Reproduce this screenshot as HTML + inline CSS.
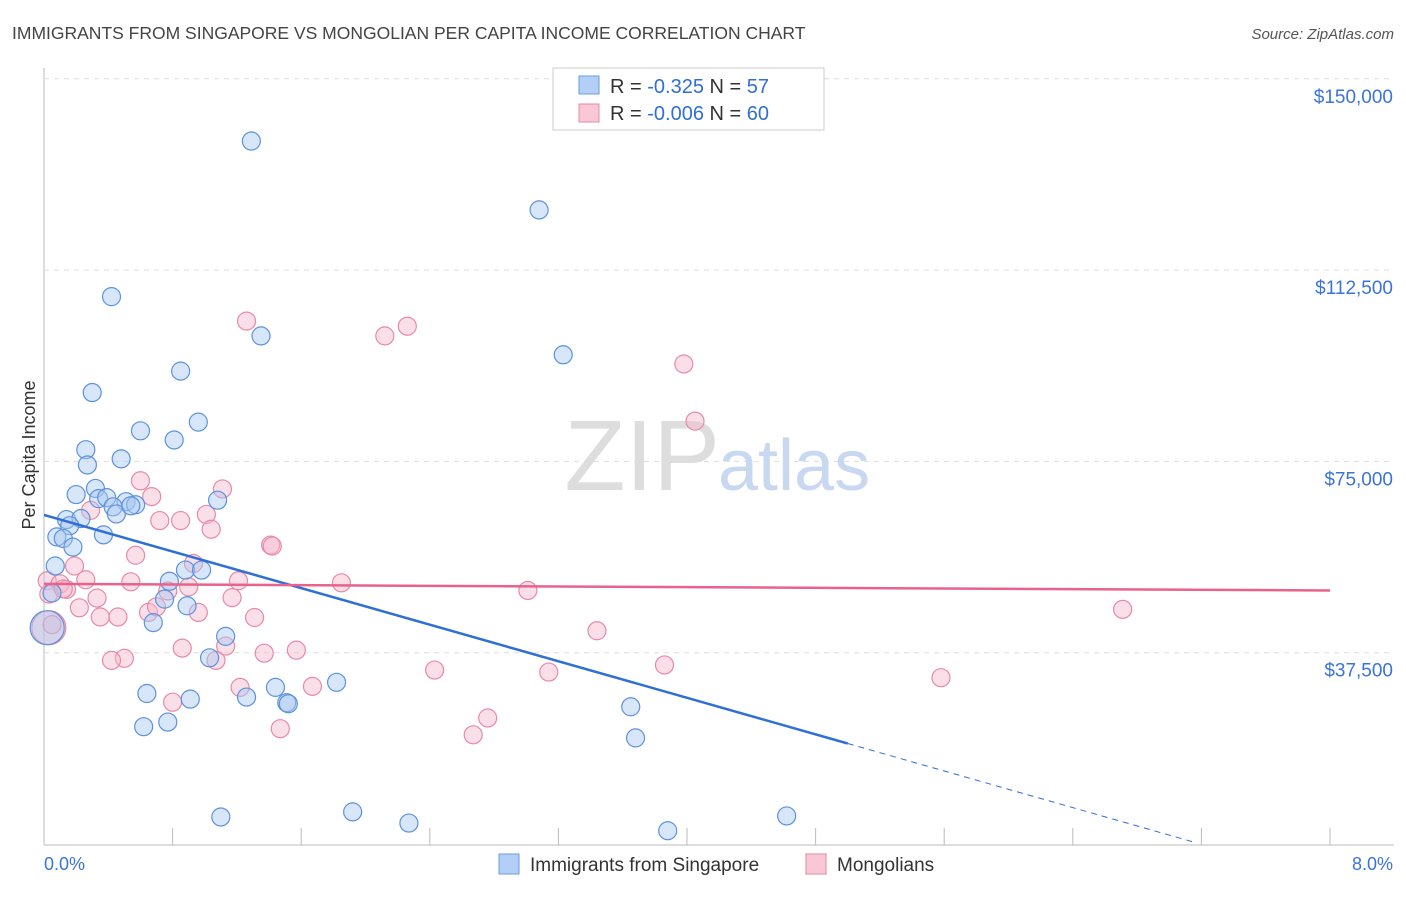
<!DOCTYPE html>
<html><head><meta charset="utf-8"><style>
body{margin:0;background:#fff;font-family:"Liberation Sans",sans-serif}
svg text{font-family:"Liberation Sans",sans-serif}
</style></head><body>
<svg id="c" width="1406" height="892" xmlns="http://www.w3.org/2000/svg">
<text x="12" y="39" font-size="17.5" fill="#444">IMMIGRANTS FROM SINGAPORE VS MONGOLIAN PER CAPITA INCOME CORRELATION CHART</text>
<text x="1394" y="39" font-size="15" fill="#555" font-style="italic" text-anchor="end">Source: ZipAtlas.com</text>
<text x="35" y="455" font-size="18" fill="#333" text-anchor="middle" transform="rotate(-90 35 455)">Per Capita Income</text>
<g id="grid"></g>
<text x="720" y="490" font-size="100" fill="#ddd" text-anchor="end" font-family="Liberation Serif">ZIP</text>
<text x="718" y="490" font-size="72" fill="#c8d8f0">atlas</text>
<g id="pts"></g>
<g id="lines"></g>
<g>
<rect x="553" y="68" width="271" height="62" fill="#fff" stroke="#ccc"/>
<rect x="579" y="76" width="20" height="18" fill="#b3cff5" stroke="#6a9de0"/>
<rect x="579" y="104" width="20" height="18" fill="#f9c7d6" stroke="#e88aa6"/>
<text x="610" y="93" font-size="20" fill="#333">R = <tspan fill="#2f6fd6">-0.325</tspan>   N = <tspan fill="#2f6fd6">57</tspan></text>
<text x="610" y="120" font-size="20" fill="#333">R = <tspan fill="#2f6fd6">-0.006</tspan>   N = <tspan fill="#2f6fd6">60</tspan></text>
</g>
<text x="44" y="870" font-size="18" fill="#3a74d8">0.0%</text>
<text x="1393" y="870" font-size="18" fill="#3a74d8" text-anchor="end">8.0%</text>
<g>
<rect x="499" y="854" width="20" height="20" fill="#b3cff5" stroke="#6a9de0"/>
<text x="530" y="871" font-size="19" fill="#333">Immigrants from Singapore</text>
<rect x="806" y="854" width="20" height="20" fill="#f9c7d6" stroke="#e88aa6"/>
<text x="837" y="871" font-size="19" fill="#333">Mongolians</text>
</g>
</svg>
<script>
const yTicks=[37500,75000,112500,150000];
const yTickLabels=["$37,500","$75,000","$112,500","$150,000"];
const blueX=[1.29,3.08,0.42,1.35,3.23,0.85,0.30,0.96,0.60,0.81,0.26,0.27,0.48,0.20,0.32,0.34,0.39,0.51,0.57,0.43,0.45,1.08,0.54,0.14,0.23,0.16,0.08,0.12,0.37,0.18,0.07,0.88,0.98,0.78,0.75,0.89,0.68,1.13,1.03,0.02,0.64,0.91,1.26,1.44,1.82,1.51,1.52,0.62,0.77,3.65,3.68,1.10,1.92,2.27,3.88,4.62,0.05];
const blueY=[137800,124300,107300,99600,95900,92700,88500,82700,81000,79200,77300,74300,75500,68500,69700,67700,67900,67100,66500,66100,64700,67400,66300,63600,63800,62400,60200,59900,60600,58200,54500,53700,53700,51500,48000,46700,43400,40700,36500,42400,29500,28400,28800,30700,31700,27700,27500,23000,23900,26900,20800,5300,6300,4100,2600,5500,49200];
const pinkX=[1.26,2.12,2.26,3.98,4.05,0.60,1.11,0.67,0.29,0.72,0.85,1.01,1.04,1.41,1.42,0.57,0.93,0.19,0.02,0.10,0.14,0.26,0.54,1.21,1.85,3.01,0.03,0.33,0.22,0.65,0.70,0.77,0.90,0.96,1.17,1.31,0.35,0.46,3.44,6.71,0.03,0.86,1.13,1.37,1.57,0.50,0.42,1.07,1.22,1.67,2.43,3.14,3.86,5.58,0.80,2.76,2.67,1.47,0.12,0.05];
const pinkY=[102500,99600,101500,94100,82900,71200,69600,68100,65400,63400,63400,64600,61700,58600,58400,56600,55000,54500,51600,51000,49900,51800,51400,51600,51200,49700,49000,48200,46300,45400,46500,49600,50400,45400,48300,44400,44500,44500,41800,46000,42400,38400,38800,37400,38000,36400,36000,36000,30700,30900,34100,33700,35100,32600,27800,24700,21400,22600,50000,43000];
const blueTrend=[[0,64500],[5.0,19700],[7.15,400]];
const pinkTrend=[[0,51000],[8,49700]];
const NS="http://www.w3.org/2000/svg";
const xs=v=>44+v/8*1286, ys=v=>844-v/37500*191.3;
const grid=document.getElementById('grid');
function mk(tag,attrs,parent){const e=document.createElementNS(NS,tag);for(const k in attrs)e.setAttribute(k,attrs[k]);parent.appendChild(e);return e;}
let ax=mk('line',{x1:44,y1:68,x2:44,y2:845,stroke:'#bbb'},grid);


let bx=mk('line',{x1:44,y1:845,x2:1394,y2:845,stroke:'#bbb'},grid);


yTicks.forEach((t,i)=>{
 let g=mk('line',{x1:44,x2:1394,y1:ys(t),y2:ys(t),stroke:'#ddd','stroke-dasharray':'5,5'},grid);
 
 
 let l=mk('text',{x:1393,y:ys(t)+24,'font-size':19,fill:'#3a74d8','text-anchor':'end'},grid);
 l.textContent=yTickLabels[i];
 
 
});
for(let i=1;i<=10;i++){
 let t=mk('line',{x1:xs(i*0.8),x2:xs(i*0.8),y1:828,y2:845,stroke:'#bbb'},grid);
 
 
}
const pts=document.getElementById('pts');
function dots(X,Y,fill,stroke,name){X.forEach((x,i)=>{
 const big=(x<0.04&&Y[i]>41000&&Y[i]<44000);
 let c=mk('circle',{cx:xs(x),cy:ys(Y[i]),r:big?17:9,fill:fill,'fill-opacity':0.45,stroke:stroke,'stroke-width':1.2},pts);
 
 
});}
dots(pinkX,pinkY,'#f7b8cb','#e88aa6','mongolian-point');
dots(blueX,blueY,'#a9c8f2','#5b92de','singapore-point');
const lines=document.getElementById('lines');
let b1=mk('line',{x1:xs(blueTrend[0][0]),y1:ys(blueTrend[0][1]),x2:xs(blueTrend[1][0]),y2:ys(blueTrend[1][1]),stroke:'#2f6fd6','stroke-width':2.5},lines);


let b2=mk('line',{x1:xs(blueTrend[1][0]),y1:ys(blueTrend[1][1]),x2:xs(blueTrend[2][0]),y2:ys(blueTrend[2][1]),stroke:'#2f6fd6','stroke-width':1,'stroke-dasharray':'6,5'},lines);


let p1=mk('line',{x1:xs(pinkTrend[0][0]),y1:ys(pinkTrend[0][1]),x2:xs(pinkTrend[1][0]),y2:ys(pinkTrend[1][1]),stroke:'#e8628c','stroke-width':2.5},lines);


</script>
</body></html>
